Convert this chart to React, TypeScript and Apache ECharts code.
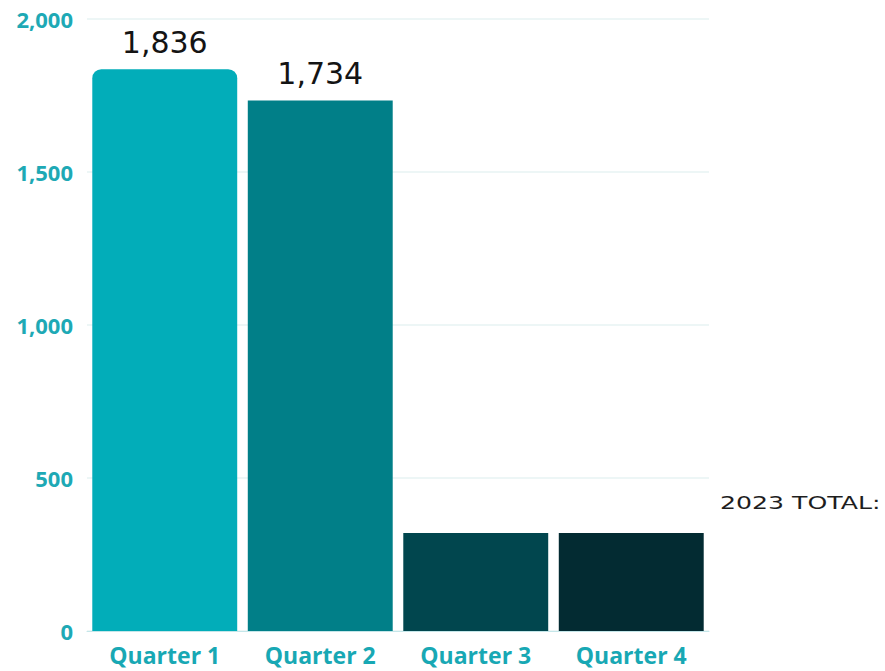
import React, { useEffect, useRef } from "react";
import * as echarts from "echarts";

const categories = ["Quarter 1", "Quarter 2", "Quarter 3", "Quarter 4"];
const values = [1836, 1734, 320, 320];
const barColors = ["#02adb9", "#017f88", "#01464e", "#032b32"];
const yTicks = [0, 500, 1000, 1500, 2000];

export default function App() {
  const ref = useRef<HTMLDivElement>(null);
  useEffect(() => {
    if (!ref.current) return;
    const chart = echarts.init(ref.current, null, { renderer: "svg" });
    chart.setOption({
      animation: false,
      backgroundColor: "#ffffff",
      grid: { left: 87, right: 176, top: 19, bottom: 40, containLabel: false },
      xAxis: {
        type: "category",
        data: categories,
        axisTick: { show: false },
        axisLine: { show: true, lineStyle: { color: "#c4e6e9", width: 1 } },
        axisLabel: {
          color: "#18a8b4",
          fontFamily: "Open Sans",
          fontWeight: "bold",
          fontSize: 23,
          margin: 12,
        },
      },
      yAxis: {
        type: "value",
        min: yTicks[0],
        max: yTicks[yTicks.length - 1],
        interval: 500,
        axisLine: { show: false },
        axisTick: { show: false },
        splitLine: { lineStyle: { color: "#edf6f6", width: 2 } },
        axisLabel: {
          color: "#1ea9b5",
          fontFamily: "Open Sans",
          fontWeight: "bold",
          fontSize: 22,
          margin: 14,
          formatter: (v: number) => v.toLocaleString("en-US"),
        },
      },
      series: [
        {
          type: "bar",
          barCategoryGap: "6.8%",
          data: values.map((v, i) => ({
            value: v,
            itemStyle: {
              color: barColors[i],
              borderRadius: i === 0 ? [9, 9, 0, 0] : 0,
            },
            label: { show: i < 2 },
          })),
          label: {
            position: "top",
            distance: 12,
            color: "#141414",
            fontFamily: "DejaVu Sans",
            fontSize: 30,
            fontWeight: "normal",
            formatter: (p: any) => Number(p.value).toLocaleString("en-US"),
          },
        },
      ],
      graphic: [
        {
          type: "text",
          x: 720,
          y: 494,
          scaleX: 1.4,
          style: {
            text: "2023 TOTAL:",
            fill: "#1e1e1e",
            fontFamily: "DejaVu Sans",
            fontSize: 18,
          },
        },
      ],
    });
    return () => chart.dispose();
  }, []);
  return (
    <div
      ref={ref}
      style={{ position: "fixed", left: 0, top: 0, width: 885, height: 671 }}
    />
  );
}
